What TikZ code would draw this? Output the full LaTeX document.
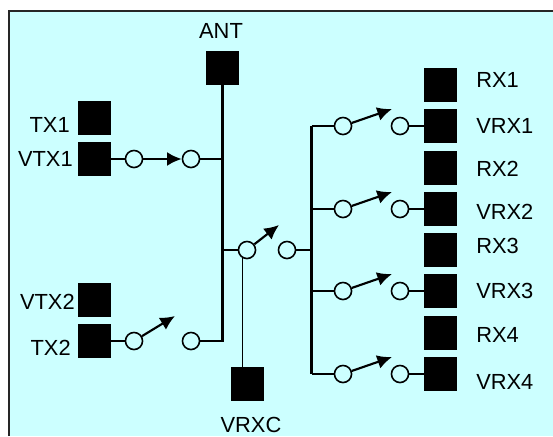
\documentclass[tikz,border=0pt]{standalone}
\usepackage{fontspec}
\setmainfont{Liberation Sans}
\usetikzlibrary{arrows.meta}
\definecolor{panelcyan}{HTML}{CCFFFF}
\tikzset{
  port/.style={fill=black,inner sep=0pt,minimum size=25pt},
  contact/.style={circle,draw=black,fill=panelcyan,line width=1.2pt,inner sep=0pt,minimum size=12.8pt},
  lbl/.style={inner sep=0pt,font=\fontsize{16.4}{18}\selectfont},
  wire/.style={line width=1.7pt},
  buswire/.style={line width=2.1pt},
  thinwire/.style={line width=0.8pt},
  arm/.style={line width=1.6pt,-{Latex[length=11pt,width=10.5pt]}}
}
\begin{document}
\begin{tikzpicture}[x=0.75pt,y=0.75pt,yscale=-1,xscale=1]
    \useasboundingbox (0,0) rectangle (553,436);
    % Panel
    \fill[panelcyan] (9,11) rectangle (553,436);
    \draw[line width=1.1pt,black!85] (9,436) -- (9,11) -- (553,11);
    % Antenna
    \node[port] (ant) at (222.5,68) {};
    \node[lbl] (lblant) at (221,31) {ANT};
    % Transmit side
    \node[port] (tx1) at (94.5,118) {};
    \node[port] (vtx1) at (94.5,159) {};
    \node[port] (vtx2) at (94.5,300) {};
    \node[port] (tx2) at (94.5,341) {};
    \node[lbl,anchor=east] (lbltx1) at (70,125) {TX1};
    \node[lbl,anchor=east] (lblvtx1) at (73,159) {VTX1};
    \node[lbl,anchor=east] (lblvtx2) at (75,302) {VTX2};
    \node[lbl,anchor=east] (lbltx2) at (71,348) {TX2};
    \node[contact] (ta1) at (134,159) {};
    \node[contact] (tb1) at (191,159) {};
    \node[contact] (ta2) at (134,341) {};
    \node[contact] (tb2) at (191,341) {};
    \coordinate (tip2) at (175,316);
    \draw[wire] (vtx1) -- (ta1);
    \draw[arm] (ta1) -- (tb1);
    \draw[wire] (tx2) -- (ta2);
    \draw[arm] (ta2) -- (tip2);
    % Main bus
    \draw[buswire] (ant.south) -- (ant.south |- tb2) -- (tb2);
    \draw[wire] (tb1) -- (tb1 -| ant.south);
    % Centre switch
    \node[contact] (ca) at (247,250) {};
    \node[contact] (cb) at (287,250) {};
    \node[port] (vrxc) at (247.5,384) {};
    \node[lbl] (lblvrxc) at (251,425) {VRXC};
    \coordinate (tipc) at (279,225);
    \draw[wire] (ant.south |- ca) -- (ca);
    \draw[arm] (ca) -- (tipc);
    \draw[thinwire] (ca.238) -- (ca.238 |- vrxc.north);
    % Receive side
    \coordinate (bustop) at (311.5,126);
    \coordinate (busbot) at (311.5,374);
    \draw[buswire] (bustop) -- (busbot);
    \draw[wire] (cb) -- (cb -| bustop);
    \foreach \n/\ry/\vy/\ly/\my in {1/85/126/80/126,2/168/209/169/212,3/250/291/246/291,4/333/374/335/382}{
      \node[port] (rx\n) at (440.5,\ry) {};
      \node[port] (vrx\n) at (440.5,\vy) {};
      \node[lbl,anchor=west] (lblrx\n) at (476,\ly) {RX\n};
      \node[lbl,anchor=west] (lblvrx\n) at (476,\my) {VRX\n};
      \node[contact] (ra\n) at (343,\vy) {};
      \node[contact] (rb\n) at (400,\vy) {};
      \coordinate (tipr\n) at (392,\vy-17);
      \draw[wire] (bustop |- ra\n) -- (ra\n);
      \draw[arm] (ra\n) -- (tipr\n);
      \draw[wire] (rb\n) -- (vrx\n);
    }
\end{tikzpicture}
\end{document}
